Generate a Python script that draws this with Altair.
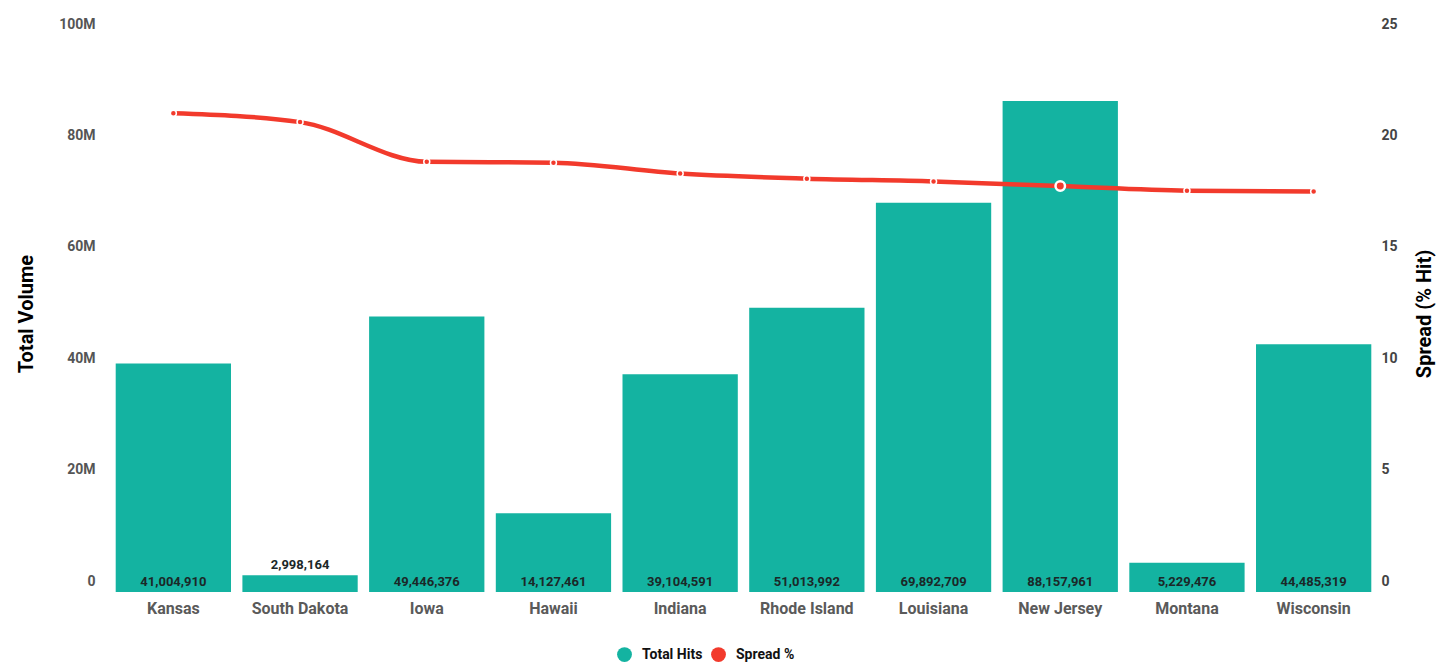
import altair as alt
import pandas as pd

states = ["Kansas", "South Dakota", "Iowa", "Hawaii", "Indiana", "Rhode Island",
          "Louisiana", "New Jersey", "Montana", "Wisconsin"]
total_hits = [41004910, 2998164, 49446376, 14127461, 39104591, 51013992,
              69892709, 88157961, 5229476, 44485319]
spread_pct = [21.49, 21.09, 19.31, 19.27, 18.78, 18.55, 18.43, 18.22, 18.01, 17.98]
series_names = ["Total Hits", "Spread %"]
highlight_state = "New Jersey"

TEAL = "#14b3a1"
RED = "#f23a2c"
FONT = "Roboto"

df = pd.DataFrame({"state": states, "hits": total_hits, "spread": spread_pct})

x_enc = alt.X("state:N", sort=states, title=None,
              scale=alt.Scale(paddingInner=0.09, paddingOuter=0.045),
              axis=alt.Axis(labelAngle=0, domain=False, ticks=False, labelFont=FONT,
                            labelFontSize=16, labelFontWeight="bold", labelColor="#5a5a5a",
                            labelPadding=8))

left_scale = alt.Scale(domain=[0, 100000000])
right_scale = alt.Scale(domain=[0, 25])

color_scale = alt.Scale(domain=series_names, range=[TEAL, RED])
legend = alt.Legend(title=None, orient="none", legendX=507, legendY=612, direction="horizontal",
                    symbolType="circle", symbolSize=220, symbolStrokeWidth=0,
                    labelFont=FONT, labelFontSize=14, labelFontWeight="bold",
                    labelColor="#111", columnPadding=8, labelOffset=10)

left_axis = alt.Axis(title="Total Volume",
                     values=[0, 20000000, 40000000, 60000000, 80000000, 100000000],
                     labelExpr="datum.value == 0 ? '0' : format(datum.value, '~s')",
                     grid=False, domain=False, ticks=False, labelFont=FONT,
                     labelFontSize=14, labelFontWeight="bold", labelColor="#555",
                     labelPadding=15, labelOffset=-11, titleFont=FONT,
                     titleFontSize=20, titleFontWeight="bold", titleColor="#000",
                     titlePadding=22)

base = alt.Chart(df)

bars = base.transform_calculate(series="'Total Hits'").mark_bar().encode(
    x=x_enc,
    y=alt.Y("hits:Q", scale=left_scale, axis=left_axis),
    color=alt.Color("series:N", scale=color_scale, legend=legend),
)

labels = base.transform_calculate(
    label_y="datum.hits < 4000000 ? datum.hits : 0"
).mark_text(baseline="bottom", dy=-3, font=FONT, fontSize=13, fontWeight="bold",
            color="#1b2828").encode(
    x=alt.X("state:N", sort=states),
    y=alt.Y("label_y:Q", scale=left_scale, axis=left_axis),
    text=alt.Text("hits:Q", format=","),
)

right_axis = alt.Axis(title="Spread (% Hit)", orient="right", values=[0, 5, 10, 15, 20, 25],
                      grid=False, domain=False, ticks=False, labelFont=FONT,
                      labelFontSize=14, labelFontWeight="bold", labelColor="#444",
                      labelPadding=4, labelOffset=-11, titleFont=FONT, titleFontSize=20,
                      titleFontWeight="bold", titleColor="#000", titleAngle=270,
                      titlePadding=37)

line = base.mark_line(interpolate="monotone", strokeWidth=4.5, color=RED).encode(
    x=alt.X("state:N", sort=states),
    y=alt.Y("spread:Q", scale=right_scale, axis=right_axis),
)

points = base.transform_calculate(series="'Spread %'").mark_circle(
    size=36, stroke="white", strokeWidth=1.5, opacity=1).encode(
    x=alt.X("state:N", sort=states),
    y=alt.Y("spread:Q", scale=right_scale, axis=right_axis),
    color=alt.Color("series:N", scale=color_scale, legend=legend),
)

hl = base.transform_filter(alt.datum.state == highlight_state).mark_circle(
    size=90, stroke="white", strokeWidth=2.5, opacity=1, color=RED
).encode(
    x=alt.X("state:N", sort=states),
    y=alt.Y("spread:Q", scale=right_scale, axis=right_axis),
)

left = alt.layer(bars, labels)
right = alt.layer(line, points, hl)

chart = alt.layer(left, right).resolve_scale(y="independent").properties(
    width=1267, height=557,
    padding={"left": 8, "right": 2, "top": 9, "bottom": 0},
).configure_view(stroke=None)

chart.save("out.html", embed_options={"renderer": "svg", "actions": False})
